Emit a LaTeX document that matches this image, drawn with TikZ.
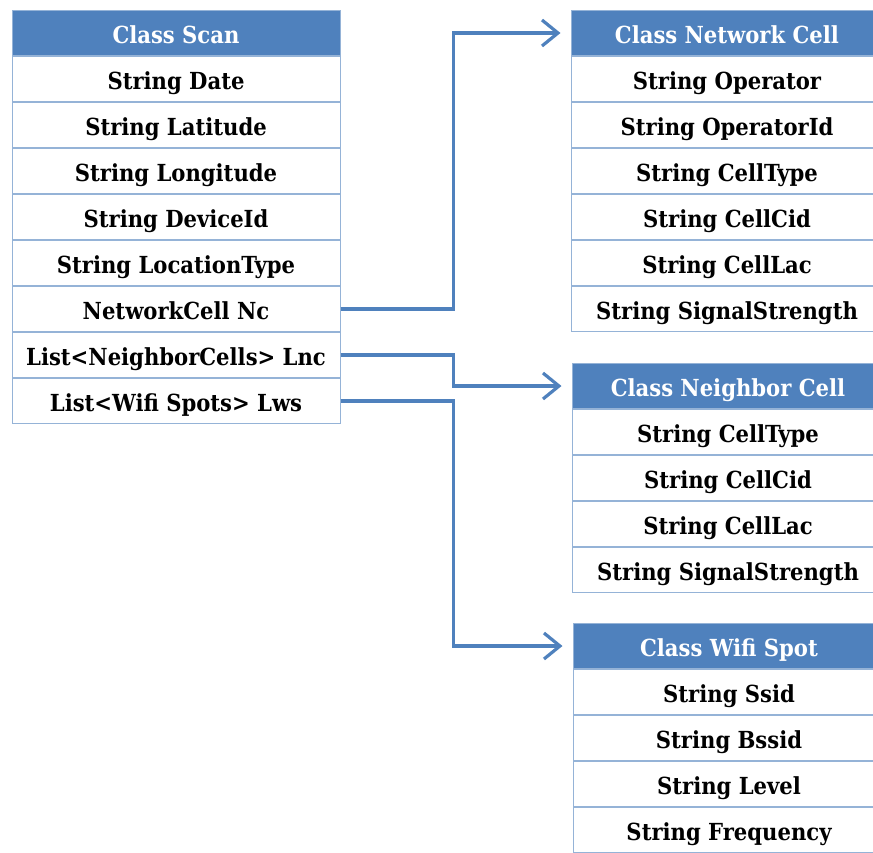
\documentclass[tikz,border=0pt]{standalone}
\usepackage{fontspec}
\setmainfont{DejaVu Serif Condensed}
\usepackage{xcolor}
\usetikzlibrary{positioning}
\usetikzlibrary{arrows.meta}
\definecolor{headblue}{HTML}{4F81BD}
\definecolor{rowline}{HTML}{95B3D7}

\begin{document}
\begin{tikzpicture}[x=1pt,y=-1pt]
              \tikzstyle{head}=[draw=rowline,fill=headblue,text=white,line width=1pt,inner sep=0pt,minimum height=45pt,text height=23pt,text depth=2pt,font=\fontsize{23.5}{23.5}\selectfont\bfseries]
              \tikzstyle{field}=[draw=rowline,fill=white,text=black,line width=1pt,inner sep=0pt,minimum height=45pt,text height=23pt,text depth=2pt,font=\fontsize{23.5}{23.5}\selectfont\bfseries]
              \tikzstyle{link}=[-{Straight Barb[length=16pt,width=26pt]},headblue,line width=3.2pt,shorten >=10pt]

              % FRAME
              \useasboundingbox (0,0) rectangle (873,852);
              \clip (0,0) rectangle (873,852);

              % CLASS SCAN
              \node[head,minimum width=328pt] (scanhead) at (176,33) {Class Scan};
              \node[field,minimum width=328pt,below=0pt of scanhead] (scan1) {String Date};
              \node[field,minimum width=328pt,below=0pt of scan1] (scan2) {String Latitude};
              \node[field,minimum width=328pt,below=0pt of scan2] (scan3) {String Longitude};
              \node[field,minimum width=328pt,below=0pt of scan3] (scan4) {String DeviceId};
              \node[field,minimum width=328pt,below=0pt of scan4] (scan5) {String LocationType};
              \node[field,minimum width=328pt,below=0pt of scan5] (scan6) {NetworkCell Nc};
              \node[field,minimum width=328pt,below=0pt of scan6] (scan7) {List<NeighborCells> Lnc};
              \node[field,minimum width=328pt,below=0pt of scan7] (scan8) {List<Wifi Spots> Lws};

              % CLASS NETWORK CELL
              \node[head,minimum width=312pt] (nchead) at (727,33) {Class Network Cell};
              \node[field,minimum width=312pt,below=0pt of nchead] (nc1) {String Operator};
              \node[field,minimum width=312pt,below=0pt of nc1] (nc2) {String OperatorId};
              \node[field,minimum width=312pt,below=0pt of nc2] (nc3) {String CellType};
              \node[field,minimum width=312pt,below=0pt of nc3] (nc4) {String CellCid};
              \node[field,minimum width=312pt,below=0pt of nc4] (nc5) {String CellLac};
              \node[field,minimum width=312pt,below=0pt of nc5] (nc6) {String SignalStrength};

              % CLASS NEIGHBOR CELL
              \node[head,minimum width=312pt] (nbhead) at (728,386) {Class Neighbor Cell};
              \node[field,minimum width=312pt,below=0pt of nbhead] (nb1) {String CellType};
              \node[field,minimum width=312pt,below=0pt of nb1] (nb2) {String CellCid};
              \node[field,minimum width=312pt,below=0pt of nb2] (nb3) {String CellLac};
              \node[field,minimum width=312pt,below=0pt of nb3] (nb4) {String SignalStrength};

              % CLASS WIFI SPOT
              \node[head,minimum width=312pt] (wshead) at (729,646) {Class Wifi Spot};
              \node[field,minimum width=312pt,below=0pt of wshead] (ws1) {String Ssid};
              \node[field,minimum width=312pt,below=0pt of ws1] (ws2) {String Bssid};
              \node[field,minimum width=312pt,below=0pt of ws2] (ws3) {String Level};
              \node[field,minimum width=312pt,below=0pt of ws3] (ws4) {String Frequency};

              % LINKS
              \draw[link] (scan6.east) -- ++(113,0) |- (nchead.west);
              \draw[link] (scan7.east) -- ++(113,0) |- (nbhead.west);
              \draw[link] (scan8.east) -- ++(113,0) |- (wshead.west);
            \end{tikzpicture}
\end{document}
